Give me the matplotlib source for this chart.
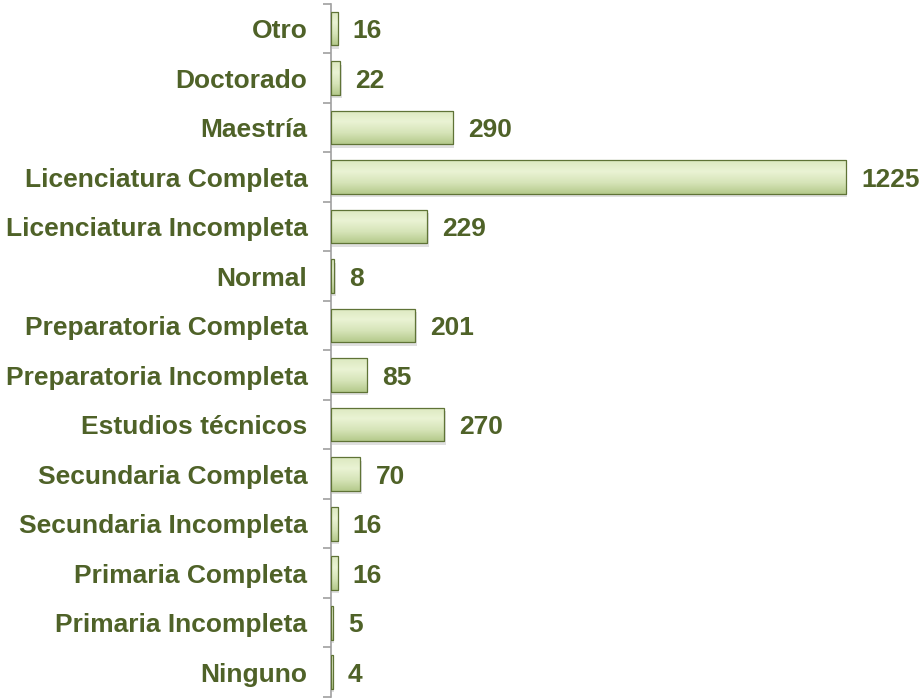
import numpy as np
import matplotlib.pyplot as plt
from matplotlib.patches import Rectangle
from matplotlib.colors import LinearSegmentedColormap

categories = ['Ninguno', 'Primaria Incompleta', 'Primaria Completa', 'Secundaria Incompleta',
              'Secundaria Completa', 'Estudios técnicos', 'Preparatoria Incompleta',
              'Preparatoria Completa', 'Normal', 'Licenciatura Incompleta',
              'Licenciatura Completa', 'Maestría', 'Doctorado', 'Otro']
values = [4, 5, 16, 16, 70, 270, 85, 201, 8, 229, 1225, 290, 22, 16]

plt.rcParams['font.family'] = ['Liberation Sans', 'DejaVu Sans']
txt = '#4F6228'

fig = plt.figure(figsize=(9.22, 6.98), dpi=100)
ax = fig.add_axes([0.359, 0.0015, 0.63, 0.993])

y = np.arange(len(categories))
bars = ax.barh(y, values, height=0.68, color='#D7E4BD', edgecolor='#4F6228', linewidth=0.6, zorder=3)

# bevel look: vertical gradient clipped to each bar, plus a soft shadow
cmap = LinearSegmentedColormap.from_list('g', ['#b5ca8c', '#d6e4b8', '#eaf3d4', '#dce9c0'])
grad = np.linspace(0, 1, 100).reshape(-1, 1)
for b in bars:
    x0, y0, w, h = b.get_x(), b.get_y(), b.get_width(), b.get_height()
    ax.add_patch(Rectangle((x0 + 3, y0 - 0.07), w, h, color='#a8a8a8', alpha=0.35, lw=0, zorder=2))
    im = ax.imshow(grad, extent=(x0, x0 + w, y0, y0 + h), origin='lower', cmap=cmap,
                   aspect='auto', zorder=4)
    im.set_clip_path(b)
    ax.add_patch(Rectangle((x0, y0), w, h, fill=False, ec='#5f7336', lw=0.9, zorder=5))

for yi, v in zip(y, values):
    ax.text(v + 36, yi, str(v), va='center_baseline', ha='left', fontsize=19,
            fontweight='bold', color=txt)

ax.set_xlim(0, 1382)
ax.set_ylim(-0.5, len(categories) - 0.5)
ax.set_yticks(y)
ax.set_yticklabels(categories, fontsize=19, fontweight='bold', color=txt)
ax.set_yticks(np.arange(-0.5, len(categories), 1), minor=True)
ax.tick_params(axis='y', which='major', length=0, pad=17)
ax.tick_params(axis='y', which='minor', length=6, color='#a0a0a0', width=1.2)
ax.set_xticks([])
for s in ['top', 'right', 'bottom']:
    ax.spines[s].set_visible(False)
ax.spines['left'].set_color('#a0a0a0')
ax.spines['left'].set_linewidth(1.2)

fig.savefig('out.png', dpi=100)
